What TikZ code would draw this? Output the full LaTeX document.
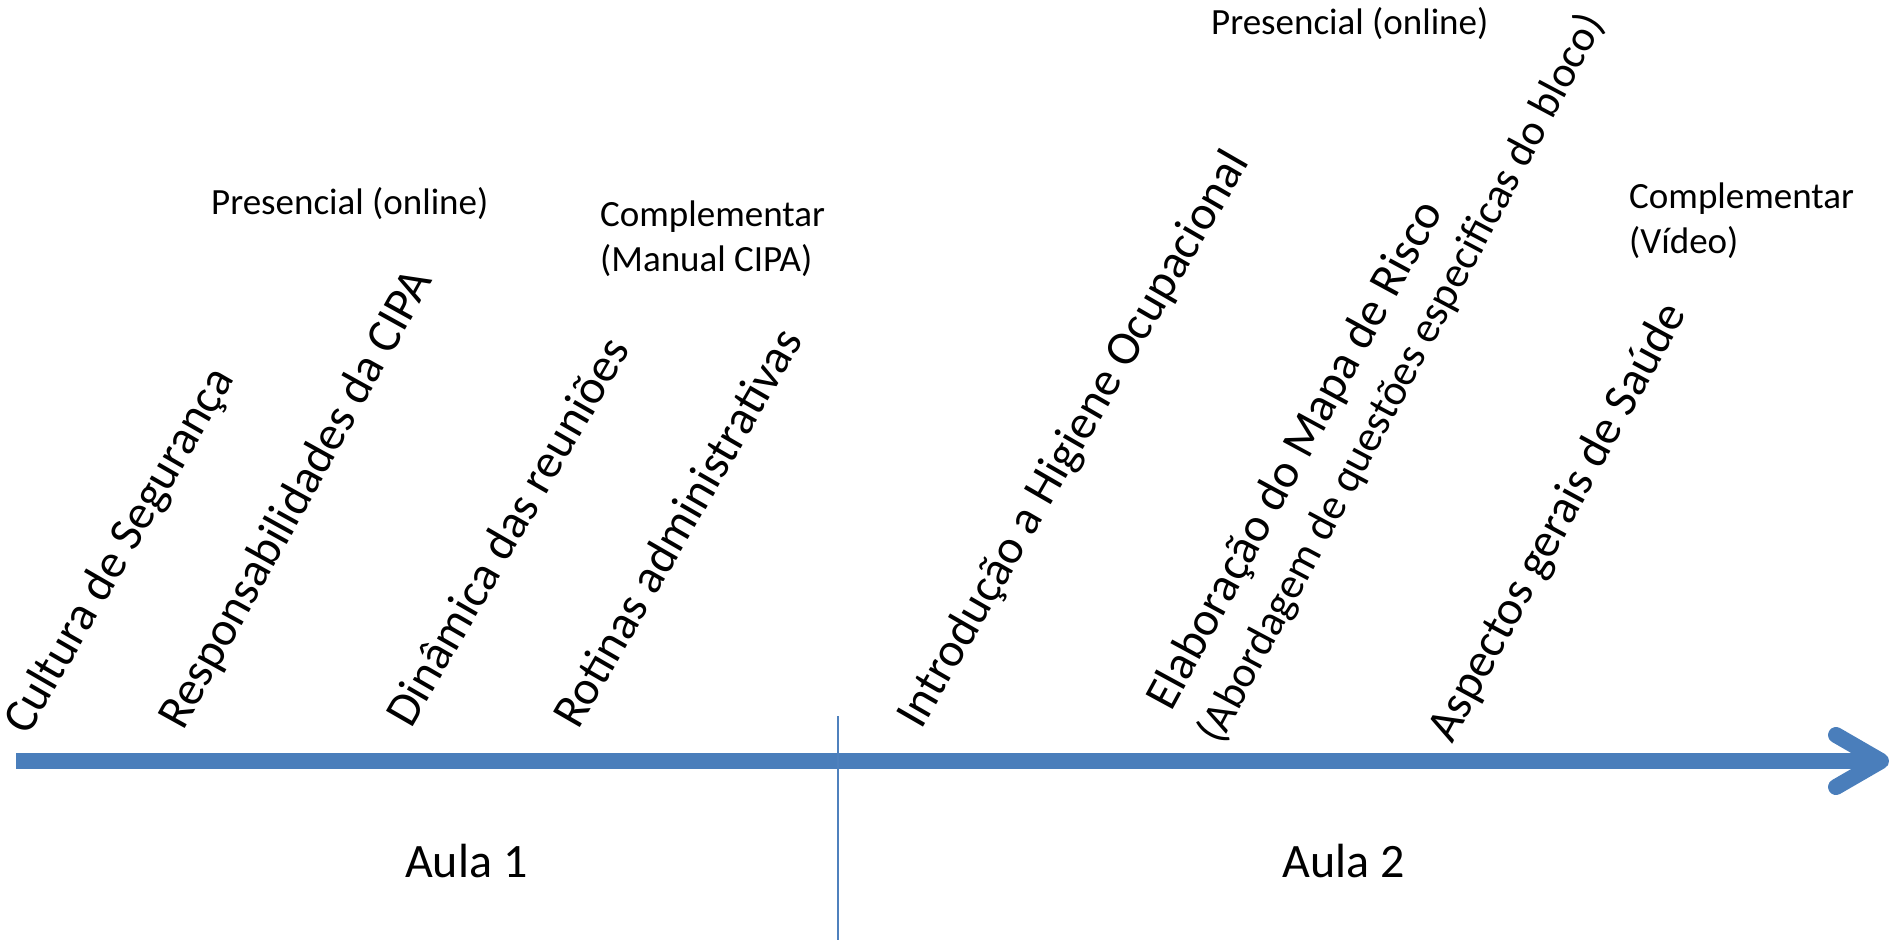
\documentclass[tikz,border=0pt]{standalone}
\usepackage{fontspec}
\setmainfont{Carlito}
\definecolor{arrowblue}{RGB}{74,126,187}
\definecolor{lineblue}{RGB}{79,129,189}
\newcommand\fbig{\fontsize{48}{58}\selectfont}
\newcommand\fmid{\fontsize{43.5}{52}\selectfont}
\newcommand\fsmall{\fontsize{37}{45}\selectfont}
\begin{document}
\begin{tikzpicture}[x=1pt,y=-1pt,
  topic/.style={inner sep=0pt, anchor=base west, rotate=60, font=\fbig},
  subtopic/.style={inner sep=0pt, anchor=base west, rotate=60, font=\fmid},
  note/.style={inner sep=0pt, anchor=base west, font=\fsmall, align=left},
  aula/.style={inner sep=0pt, anchor=base west, font=\fbig},
  shaft/.style={draw=arrowblue, line width=16pt},
  head/.style={draw=arrowblue, line width=16pt, line cap=round, line join=round},
  divider/.style={draw=lineblue, line width=2pt}]
\useasboundingbox (0,0) rectangle (1889,940);
% axis arrow
\coordinate (as) at (16,761);
\coordinate (ae) at (1881,761);
\coordinate (hu) at (1836,735);
\coordinate (hl) at (1836,787);
\draw[shaft] (as) -- (ae);
\draw[head] (hu) -- (ae) -- (hl);
% divider
\coordinate (dt) at (838,716);
\coordinate (db) at (838,940);
\draw[divider] (dt) -- (db);
% topics
\node[topic] (t1) at (28,737) {Cultura de Segurança};
\node[topic, rotate=1] (t2) at (183,732) {Responsabilidades da CIPA};
\node[topic] (t3) at (411,730) {Dinâmica das reuniões};
\node[topic] (t4) at (578,731) {Rotinas administrativas};
\node[topic] (t5) at (921,731) {Introdução a Higiene Ocupacional};
\node[topic, rotate=1.5] (t6) at (1171,713) {Elaboração do Mapa de Risco};
\node[subtopic, rotate=2] (t7) at (1220,746) {(Abordagem de questões especificas do bloco)};
\node[topic, rotate=1.5] (t8) at (1452,745) {Aspectos gerais de Saúde};
% notes
\node[note] (n1) at (211,214) {Presencial (online)};
\node[note] (n2) at (600,271) {Complementar\\(Manual CIPA)};
\node[note] (n3) at (1211,34) {Presencial (online)};
\node[note] (n4) at (1629,253) {Complementar\\(Vídeo)};
% lessons
\node[aula] (a1) at (405,877) {Aula 1};
\node[aula] (a2) at (1282,877) {Aula 2};
\end{tikzpicture}
\end{document}
